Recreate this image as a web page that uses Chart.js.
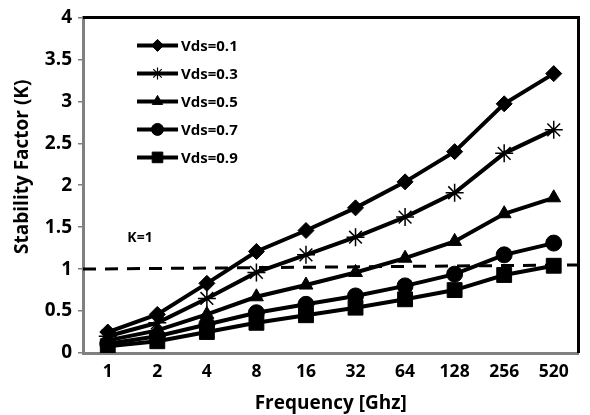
<!DOCTYPE html>
<html>
<head>
<meta charset="utf-8">
<script src="https://cdn.jsdelivr.net/npm/chart.js@4.4.0/dist/chart.umd.min.js"></script>
<style>
html, body { margin: 0; padding: 0; background: #fff; }
#wrap { width: 590px; height: 415px; position: relative; }
</style>
</head>
<body>
<div id="wrap"><canvas id="myChart"></canvas></div>
<script>
// Données
const frequences = ['1', '2', '4', '8', '16', '32', '64', '128', '256', '520'];
const vds01 = [0.25, 0.46, 0.83, 1.21, 1.46, 1.73, 2.04, 2.40, 2.97, 3.33];
const vds03 = [0.20, 0.36, 0.65, 0.96, 1.17, 1.38, 1.62, 1.91, 2.38, 2.66];
const vds05 = [0.15, 0.27, 0.46, 0.67, 0.81, 0.96, 1.13, 1.33, 1.66, 1.85];
const vds07 = [0.11, 0.20, 0.34, 0.48, 0.58, 0.68, 0.80, 0.94, 1.17, 1.31];
const vds09 = [0.08, 0.14, 0.25, 0.36, 0.45, 0.54, 0.64, 0.75, 0.93, 1.04];
const kSeuil = [1.0, 1.05]; // ligne pointillée K=1 (bord gauche, bord droit)

const police = '"Open Sans", Lato, sans-serif';

// Séries : libellé, données, style du marqueur, taille
const series = [
    { label: 'Vds=0.1', data: vds01, style: 'rectRot', r: 8, leg: 6 },
    { label: 'Vds=0.3', data: vds03, style: 'star', r: 9, leg: 6 },
    { label: 'Vds=0.5', data: vds05, style: 'triangle', r: 8, leg: 6 },
    { label: 'Vds=0.7', data: vds07, style: 'circle', r: 8, leg: 6 },
    { label: 'Vds=0.9', data: vds09, style: 'rect', r: 10.5, leg: 7.5 }
];

// Légende dessinée à l'intérieur de la zone du graphique
const legendeInterne = {
    id: 'legendeInterne',
    afterDraw(chart) {
        const ctx = chart.ctx;
        const area = chart.chartArea;
        const x0 = area.left + 54;
        const x1 = area.left + 95;
        ctx.save();
        series.forEach((s, i) => {
            const y = area.top + 28 + i * 28;
            ctx.strokeStyle = '#000';
            ctx.fillStyle = '#000';
            ctx.lineWidth = 4;
            ctx.beginPath();
            ctx.moveTo(x0, y);
            ctx.lineTo(x1, y);
            ctx.stroke();
            ctx.lineWidth = s.style === 'star' ? 1.2 : 1;
            Chart.helpers.drawPoint(ctx, { pointStyle: s.style, radius: s.leg, rotation: 0, borderWidth: ctx.lineWidth }, (x0 + x1) / 2, y);
            ctx.font = 'bold 15px ' + police;
            ctx.textBaseline = 'middle';
            ctx.textAlign = 'left';
            ctx.fillText(s.label, x1 + 3, y + 1);
        });
        ctx.restore();
    }
};

// Cadre noir (haut et droite), ligne K=1, étiquette et titre vertical
const cadreEtSeuil = {
    id: 'cadreEtSeuil',
    afterDatasetsDraw(chart) {
        const ctx = chart.ctx;
        const area = chart.chartArea;
        const y = chart.scales.y;
        const x = chart.scales.x;
        ctx.save();
        // ligne K=1
        ctx.strokeStyle = '#000';
        ctx.lineWidth = 3;
        ctx.setLineDash([13, 9]);
        ctx.beginPath();
        ctx.moveTo(area.left, y.getPixelForValue(kSeuil[0]));
        ctx.lineTo(area.right + 4, y.getPixelForValue(kSeuil[1]));
        ctx.stroke();
        ctx.setLineDash([]);
        // étiquette
        ctx.fillStyle = '#000';
        ctx.font = 'bold 14px ' + police;
        ctx.textAlign = 'center';
        ctx.textBaseline = 'middle';
        ctx.fillText('K=1', x.getPixelForValue(0.65), y.getPixelForValue(1.37));
        // titre de l'axe Y
        ctx.save();
        ctx.translate(y.left + 23, y.getPixelForValue(2.22));
        ctx.rotate(-Math.PI / 2);
        ctx.font = 'bold 19px ' + police;
        ctx.fillText('Stability Factor (K)', 0, 0);
        ctx.restore();
        // cadre
        ctx.lineWidth = 3;
        ctx.beginPath();
        ctx.moveTo(area.left, area.top);
        ctx.lineTo(area.right, area.top);
        ctx.lineTo(area.right, area.bottom);
        ctx.stroke();
        ctx.restore();
    }
};

const ctx = document.getElementById('myChart').getContext('2d');
const chartK = new Chart(ctx, {
    type: 'line',
    data: {
        labels: frequences,
        datasets: series.map(s => ({
            label: s.label,
            data: s.data,
            borderColor: '#000',
            backgroundColor: '#000',
            borderWidth: 4,
            pointStyle: s.style,
            pointRadius: s.r,
            pointBorderWidth: s.style === 'star' ? 1.5 : 1,
            pointBorderColor: '#000',
            pointBackgroundColor: '#000',
            fill: false,
            tension: 0
        }))
    },
    options: {
        responsive: true,
        maintainAspectRatio: false,
        animation: false,
        layout: { padding: { top: 15, right: 3, left: 0, bottom: 0 } },
        plugins: {
            legend: { display: false },
            tooltip: { enabled: false }
        },
        scales: {
            x: {
                offset: true,
                grid: { display: false, drawTicks: false },
                border: { color: '#808080', width: 3 },
                ticks: {
                    color: '#000',
                    padding: 9,
                    font: { family: police, size: 17.5, weight: 'bold' }
                },
                title: {
                    display: true,
                    text: 'Frequency [Ghz]',
                    color: '#000',
                    padding: { top: 0, bottom: 0 },
                    font: { family: police, size: 19, weight: 'bold' }
                },
                afterFit(scale) { scale.height = 62; }
            },
            y: {
                min: 0,
                max: 4,
                ticks: {
                    stepSize: 0.5,
                    color: '#000',
                    padding: 6,
                    font: { family: police, size: 19, weight: 'bold' },
                    callback: value => String(value)
                },
                grid: { drawOnChartArea: false, tickLength: 5, color: '#808080', lineWidth: 1.5 },
                border: { color: '#808080', width: 3 },
                title: { display: false },
                afterFit(scale) { scale.width = 83; }
            }
        }
    },
    plugins: [cadreEtSeuil, legendeInterne]
});
</script>
</body>
</html>
